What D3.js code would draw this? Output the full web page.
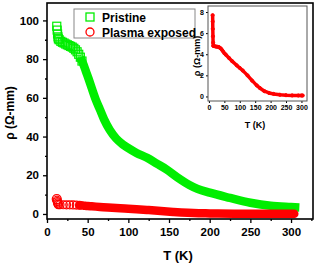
<!DOCTYPE html>
<meta charset="utf-8">
<style>
body { margin: 0; background: #fff; }
text { font-family: Arial, "Liberation Sans", sans-serif; font-weight: bold; }
</style>
<svg width="315" height="263"></svg>
<script src="https://d3js.org/d3.v7.min.js"></script>
<script>

// pristine: T (K), rho (ohm-mm)
var pristineT = [12,12.5,13,13.5,14,15,17,19,21,23,25,27,29,31,33,35,37,39,41,43,45,48,51,55,60,65,70,77,85,93,100,110,123,135,147,160,175,185,200,225,250,275,300,305];
var pristineR = [97,95,93,91.5,90.5,90,89.2,88.7,88.3,87.8,87.4,87,86.6,86.2,85.6,84.8,83.8,82.5,81,79,77,73.5,70,65,59,54,49,43.5,39,36,34,31.5,29,26,23,19,15,13,11,8.3,5.8,4.2,3.6,3.5];

// plasma exposed
var plasmaT = [12,12.3,12.6,13,13.5,14,16,20,24,28,32,36,40,45,50,55,65,75,90,100,110,125,140,155,165,180,195,210,230,250,270,290,300,304];
var plasmaR = [7.7,7.1,6.4,5.7,5.1,4.8,4.78,4.75,4.72,4.7,4.68,4.6,4.5,4.3,4.1,3.95,3.65,3.35,2.95,2.7,2.45,2.0,1.5,1.05,0.8,0.5,0.33,0.24,0.16,0.12,0.1,0.09,0.09,0.09];

var xTicks = [0,50,100,150,200,250,300];
var yTicks = [0,20,40,60,80,100];
var insetYTicks = [0,2,4,6,8];

var green = "#00ee00", red = "#ff0000";
var pristine = pristineT.map(function(t, i) { return {t: t, r: pristineR[i]}; });
var plasma = plasmaT.map(function(t, i) { return {t: t, r: plasmaR[i]}; });

var svg = d3.select("svg");

// main plot
var x = d3.scaleLinear().domain([0, 327]).range([47, 313]);
var y = d3.scaleLinear().domain([-2.6, 109]).range([219, 3]);

var g = svg.append("g");

g.append("g")
    .attr("transform", "translate(0,219)")
    .call(d3.axisBottom(x).tickValues(d3.range(25, 327, 50)).tickSize(2).tickFormat(""))
    .call(function(a) { a.select(".domain").remove(); });
g.append("g")
    .attr("transform", "translate(0,219)")
    .call(d3.axisBottom(x).tickValues(xTicks).tickSize(4).tickPadding(5))
    .call(function(a) { a.select(".domain").remove(); a.selectAll("text").attr("font-size", 11.5).attr("fill", "#000"); });
g.append("g")
    .attr("transform", "translate(47,0)")
    .call(d3.axisLeft(y).tickValues(d3.range(10, 109, 20)).tickSize(2).tickFormat(""))
    .call(function(a) { a.select(".domain").remove(); });
g.append("g")
    .attr("transform", "translate(47,0)")
    .call(d3.axisLeft(y).tickValues(yTicks).tickSize(4).tickPadding(4))
    .call(function(a) { a.select(".domain").remove(); a.selectAll("text").attr("font-size", 11.5).attr("fill", "#000"); });
g.selectAll(".tick line").attr("stroke", "#000").attr("stroke-width", 1.3);

var line = d3.line().x(function(d) { return x(d.t); }).y(function(d) { return y(d.r); }).curve(d3.curveMonotoneX);

// dense band of markers, drawn as thick line
g.append("path").datum(pristine.filter(function(d) { return d.t >= 43; }))
    .attr("d", line).attr("fill", "none").attr("stroke", green).attr("stroke-width", 8.5).attr("stroke-linecap", "square");
g.selectAll(".sq").data(pristine.filter(function(d) { return d.t < 45; })).enter().append("rect")
    .attr("x", function(d) { return x(d.t) - 4; })
    .attr("y", function(d) { return y(d.r) - 4; })
    .attr("width", 8).attr("height", 8)
    .attr("fill", "none").attr("stroke", green).attr("stroke-width", 1.2);

g.append("path").datum(plasma.filter(function(d) { return d.t >= 40; }))
    .attr("d", line).attr("fill", "none").attr("stroke", red).attr("stroke-width", 8.5).attr("stroke-linecap", "round");
g.selectAll(".ci").data(plasma.filter(function(d) { return d.t < 45; })).enter().append("circle")
    .attr("cx", function(d) { return x(d.t); })
    .attr("cy", function(d) { return y(d.r); })
    .attr("r", function(d, i) { return i === 0 ? 4.5 : 4; })
    .attr("fill", "none").attr("stroke", red).attr("stroke-width", 1.2);

g.append("rect").attr("x", 47).attr("y", 3).attr("width", 266).attr("height", 216)
    .attr("fill", "none").attr("stroke", "#000").attr("stroke-width", 1.6);

g.append("text").attr("x", 178).attr("y", 260).attr("text-anchor", "middle")
    .attr("font-size", 13).text("T (K)");
g.append("text").attr("transform", "translate(14,113) rotate(-90)").attr("text-anchor", "middle")
    .attr("font-size", 12).attr("font-weight", "normal").text("ρ (Ω-mm)");

// legend
var lg = svg.append("g");
lg.append("rect").attr("x", 74).attr("y", 9).attr("width", 121).attr("height", 29)
    .attr("fill", "#fff").attr("stroke", "#888").attr("stroke-width", 1);
lg.append("rect").attr("x", 86).attr("y", 13).attr("width", 8).attr("height", 8)
    .attr("fill", "none").attr("stroke", green).attr("stroke-width", 1.3);
lg.append("circle").attr("cx", 90).attr("cy", 32).attr("r", 4)
    .attr("fill", "none").attr("stroke", red).attr("stroke-width", 1.3);
lg.append("text").attr("x", 102).attr("y", 21.5).attr("font-size", 12).text("Pristine");
lg.append("text").attr("x", 102).attr("y", 36.5).attr("font-size", 12).text("Plasma exposed");

// inset
var ix = d3.scaleLinear().domain([-3, 318]).range([208, 307]);
var iy = d3.scaleLinear().domain([-0.43, 8.57]).range([101, 6]);
var ig = svg.append("g");
ig.append("rect").attr("x", 208).attr("y", 6).attr("width", 99).attr("height", 95)
    .attr("fill", "#fff").attr("stroke", "none");
ig.append("g").attr("transform", "translate(0,101)")
    .call(d3.axisBottom(ix).tickValues(xTicks).tickSize(2).tickPadding(2))
    .call(function(a) { a.select(".domain").remove(); a.selectAll("text").attr("font-size", 7).attr("fill", "#000"); });
ig.append("g").attr("transform", "translate(208,0)")
    .call(d3.axisLeft(iy).tickValues(insetYTicks).tickSize(2).tickPadding(2))
    .call(function(a) { a.select(".domain").remove(); a.selectAll("text").attr("font-size", 7).attr("fill", "#000"); });
ig.selectAll(".tick line").attr("stroke", "#000");

var iline = d3.line().x(function(d) { return ix(d.t); }).y(function(d) { return iy(d.r); });
ig.append("path").datum(plasma)
    .attr("d", iline).attr("fill", "none").attr("stroke", red).attr("stroke-width", 3.5)
    .attr("stroke-linecap", "round").attr("stroke-linejoin", "round");
ig.selectAll("circle").data(plasma).enter().append("circle")
    .attr("cx", function(d) { return ix(d.t); })
    .attr("cy", function(d) { return iy(d.r); })
    .attr("r", 1.6)
    .attr("fill", "none").attr("stroke", red).attr("stroke-width", 1);
ig.append("rect").attr("x", 208).attr("y", 6).attr("width", 99).attr("height", 95)
    .attr("fill", "none").attr("stroke", "#555").attr("stroke-width", 1);

ig.append("text").attr("x", 255).attr("y", 128).attr("text-anchor", "middle")
    .attr("font-size", 9).text("T (K)");
ig.append("text").attr("transform", "translate(200,56) rotate(-90)").attr("text-anchor", "middle")
    .attr("font-size", 9).attr("font-weight", "normal").text("ρ (Ω-mm)");

</script>
